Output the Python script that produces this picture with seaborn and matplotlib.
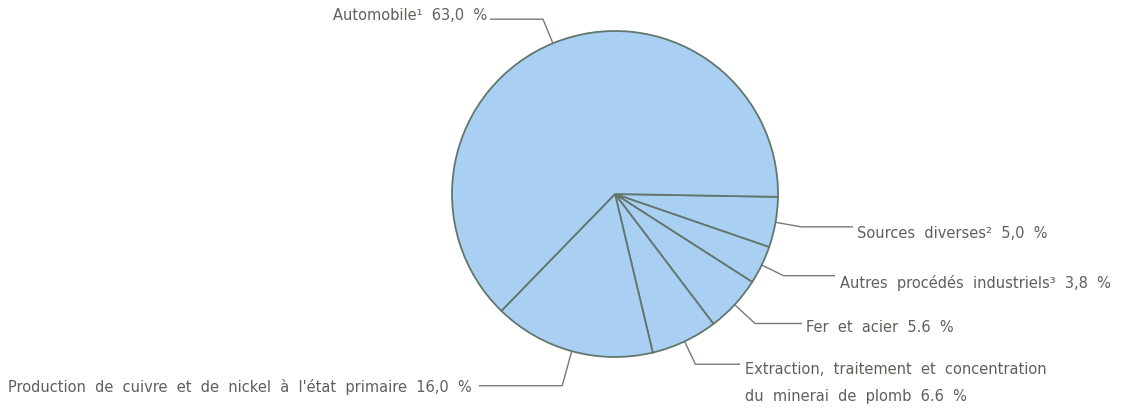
import numpy as np
import matplotlib
matplotlib.use("Agg")
import matplotlib.pyplot as plt
import seaborn as sns

# Sources of emissions, share of total (%)
labels = [
    "Sources  diverses²  5,0  %",
    "Autres  procédés  industriels³  3,8  %",
    "Fer  et  acier  5.6  %",
    "Extraction,  traitement  et  concentration\ndu  minerai  de  plomb  6.6  %",
    "Production  de  cuivre  et  de  nickel  à  l'état  primaire  16,0  %",
    "Automobile¹  63,0  %",
]
values = [5.0, 3.8, 5.6, 6.6, 16.0, 63.0]

sns.set_theme(style="white")
plt.rcParams["font.family"] = ["DejaVu Sans"]

W, H = 1132, 408
fig = plt.figure(figsize=(W / 100, H / 100), dpi=100)
ax = fig.add_axes([0, 0, 1, 1])

cx, cy, R = 615, H - 194, 163
fill = "#a9d0f2"
edge = "#62776c"
text_col = "#5d6158"
line_col = "#737c72"

wedges, _ = ax.pie(
    values,
    colors=[fill] * len(values),
    startangle=-1,
    counterclock=False,
    center=(cx, cy),
    radius=R,
    wedgeprops=dict(edgecolor=edge, linewidth=1.3),
)
ax.set_xlim(0, W)
ax.set_ylim(0, H)
ax.set_aspect("equal")
ax.axis("off")

# horizontal end of each leader line and text anchor (x, y in pixels from top)
leader_end = [853, 835, 802, 740, 479, 490]
text_pos = [(857, 234), (840, 283), (806, 328), (745, 383), (8, 387), (487, 15)]
text_ha = ["left", "left", "left", "left", "left", "right"]
elbow_r = [1.16, 1.15, 1.17, 1.155, 1.22, 1.16]

for w, xe, er in zip(wedges, leader_end, elbow_r):
    mid = np.deg2rad((w.theta1 + w.theta2) / 2)
    x0, y0 = cx + R * np.cos(mid), cy + R * np.sin(mid)
    x1, y1 = cx + er * R * np.cos(mid), cy + er * R * np.sin(mid)
    ax.plot([x0, x1, xe], [y0, y1, y1], color=line_col, lw=1.0,
            solid_capstyle="butt")

for lab, (tx, ty), ha in zip(labels, text_pos, text_ha):
    ax.text(tx, H - ty, lab, ha=ha, va="center", color=text_col,
            fontsize=10.5, linespacing=1.95)

fig.savefig("out.png", dpi=100, facecolor="white")
